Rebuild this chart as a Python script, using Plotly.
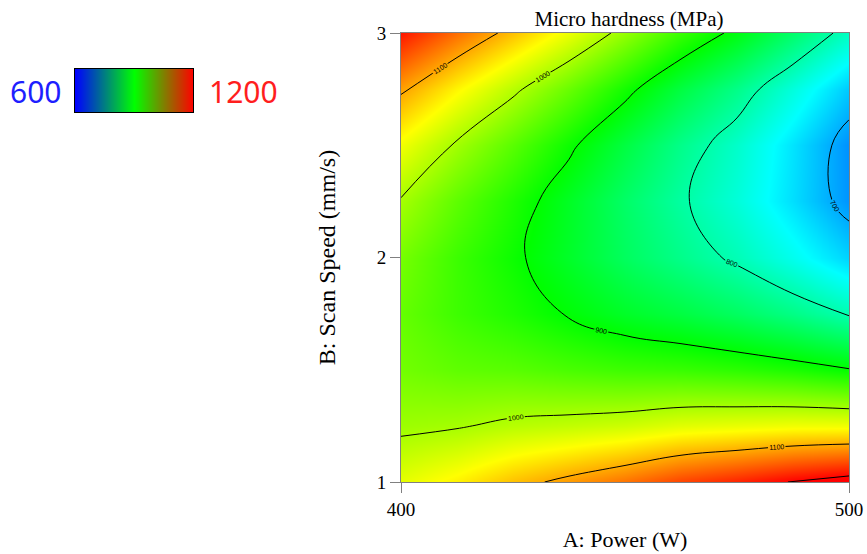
import plotly.graph_objects as go

# A: Power (W) and B: Scan Speed (mm/s) grid
power = [400, 412.5, 425, 437.5, 450, 462.5, 475, 487.5, 500]
speed = [1.0, 1.25, 1.5, 1.75, 2.0, 2.25, 2.5, 2.75, 3.0]

# Micro hardness (MPa), rows follow speed, columns follow power
hardness = [
    [1035, 1058, 1087, 1110, 1133, 1161, 1180, 1202, 1219],
    [992, 997, 1008, 1014, 1021, 1033, 1038, 1043, 1043],
    [967, 956, 952, 943, 936, 933, 926, 916, 902],
    [959, 936, 918, 897, 877, 862, 844, 822, 796],
    [969, 935, 907, 876, 845, 819, 793, 760, 724],
    [997, 955, 918, 879, 840, 805, 772, 731, 687],
    [1043, 995, 952, 907, 862, 819, 781, 734, 685],
    [1106, 1055, 1008, 961, 911, 862, 820, 770, 718],
    [1187, 1135, 1087, 1039, 987, 933, 890, 838, 785],
]

x_ticks = [400, 500]
y_ticks = [1, 2, 3]
legend_range = [600, 1200]
legend_labels = ["600", "1200"]

plot_scale = [[0.0, "rgb(0,0,255)"], [0.25, "rgb(0,255,255)"], [0.5, "rgb(0,255,0)"],
              [0.75, "rgb(255,255,0)"], [1.0, "rgb(255,0,0)"]]
bar_scale = [[0.0, "rgb(0,0,255)"], [0.5, "rgb(0,255,0)"], [1.0, "rgb(255,0,0)"]]

serif = "Liberation Serif, Times New Roman, serif"
sans = "Noto Sans, Open Sans, sans-serif"

W, H = 867, 554
ML, MR, MT, MB = 10, 18, 33, 72
PW, PH = W - ML - MR, H - MT - MB


def px_x(p):
    return (p - ML) / PW


def px_y(p):
    return (H - MB - p) / PH


fig = go.Figure()
fig.add_trace(go.Contour(
    x=power, y=speed, z=hardness,
    colorscale=plot_scale, zmin=legend_range[0], zmax=legend_range[1],
    contours=dict(start=700, end=1200, size=100, coloring="heatmap",
                  showlabels=True, labelfont=dict(size=7, color="black", family="Arial")),
    line=dict(color="black", width=1, smoothing=1.2),
    showscale=False, hoverinfo="skip",
))

# horizontal colour legend bar (600 .. 1200)
fig.add_trace(go.Heatmap(
    x=legend_range, y=[0], z=[legend_range], colorscale=bar_scale,
    zmin=legend_range[0], zmax=legend_range[1], zsmooth="best",
    showscale=False, hoverinfo="skip", xaxis="x2", yaxis="y2",
))

fig.add_annotation(text=legend_labels[0], xref="paper", yref="paper", x=px_x(63), y=px_y(91),
                   xanchor="right", yanchor="middle", showarrow=False,
                   font=dict(size=30, color="rgb(30,30,255)", family=sans))
fig.add_annotation(text=legend_labels[1], xref="paper", yref="paper", x=px_x(207), y=px_y(91),
                   xanchor="left", yanchor="middle", showarrow=False,
                   font=dict(size=30, color="rgb(255,30,30)", family=sans))

axis_common = dict(ticks="outside", ticklen=10, tickcolor="gray", showline=True, linecolor="gray",
                   mirror=True, showgrid=False, zeroline=False,
                   tickfont=dict(family=serif, size=19, color="black"))

fig.update_layout(
    width=W, height=H,
    margin=dict(l=ML, r=MR, t=MT, b=MB, autoexpand=False),
    paper_bgcolor="white", plot_bgcolor="white",
    title=dict(text="Micro hardness (MPa)", x=629 / W, xanchor="center", y=1 - 19 / H, yanchor="middle",
               font=dict(family=serif, size=21, color="black")),
    showlegend=False,
    xaxis=dict(domain=[px_x(401), 1], range=[400, 500], tickvals=x_ticks,
               ticktext=[str(v) for v in x_ticks],
               title=dict(text="A: Power (W)", font=dict(family=serif, size=22, color="black"), standoff=12),
               **axis_common),
    yaxis=dict(range=[1, 3], tickvals=y_ticks, ticktext=[str(v) for v in y_ticks],
               title=dict(text="B: Scan Speed (mm/s)", font=dict(family=serif, size=24, color="black"), standoff=34),
               **axis_common),
    xaxis2=dict(domain=[px_x(75), px_x(193)], anchor="y2", range=legend_range,
                showticklabels=False, ticks="", showgrid=False, zeroline=False,
                showline=True, linecolor="black", linewidth=1, mirror=True),
    yaxis2=dict(domain=[px_y(112), px_y(69)], anchor="x2", range=[-0.5, 0.5],
                showticklabels=False, ticks="", showgrid=False, zeroline=False,
                showline=True, linecolor="black", linewidth=1, mirror=True),
)

fig.write_html("out.html")
